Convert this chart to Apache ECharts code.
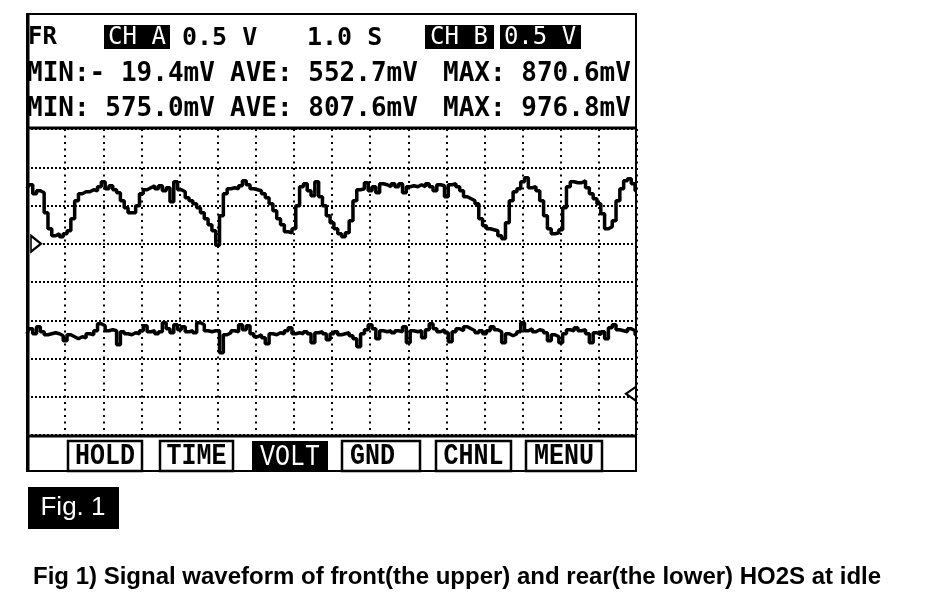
<!DOCTYPE html>
<html>
<head>
<meta charset="utf-8">
<script src="https://cdn.jsdelivr.net/npm/echarts@6/dist/echarts.min.js"></script>
<style>
html,body{margin:0;padding:0;background:#fff;}
#chart{width:928px;height:614px;}
</style>
</head>
<body>
<div id="chart"></div>
<script>
const sampleStep = 0.1;            // seconds between samples (1.0 s / div)
const timeDivs = 16;               // horizontal divisions
const voltPerDivMV = 500;          // 0.5 V / div on both channels

// Channel A (front HO2S, upper trace), mV
const chA = [
  719, 771, 654, 693, 667, 405, 196, 105, 131, 92,
  131, 170, 327, 562, 654, 680, 680, 706, 693, 745,
  810, 719, 758, 706, 667, 562, 470, 405, 405, 497,
  654, 706, 732, 758, 719, 758, 693, 732, 549, 810,
  706, 680, 601, 562, 523, 470, 405, 327, 248, 170,
  -19, 366, 654, 719, 732, 719, 758, 823, 771, 719,
  706, 693, 654, 601, 523, 431, 327, 248, 157, 144,
  196, 497, 745, 784, 693, 627, 810, 614, 497, 366,
  275, 196, 131, 92, 144, 301, 562, 706, 719, 797,
  693, 745, 667, 784, 771, 745, 784, 745, 784, 667,
  745, 758, 745, 771, 745, 784, 745, 693, 771, 758,
  614, 771, 784, 745, 693, 614, 588, 562, 523, 327,
  235, 196, 183, 170, 105, 65, 275, 562, 680, 719,
  810, 863, 732, 745, 693, 562, 366, 196, 131, 144,
  183, 470, 745, 810, 797, 797, 823, 732, 654, 588,
  523, 392, 196, 222, 301, 562, 719, 823, 850, 784,
  693
];

// Channel B (rear HO2S, lower trace), mV
const chB = [
  823, 889, 823, 915, 850, 810, 823, 836, 823, 797,
  732, 810, 784, 758, 784, 771, 823, 810, 863, 954,
  928, 863, 876, 863, 680, 850, 823, 810, 836, 823,
  863, 928, 850, 863, 823, 850, 967, 889, 836, 941,
  876, 915, 850, 863, 836, 967, 941, 863, 850, 863,
  863, 575, 810, 836, 863, 850, 941, 876, 928, 823,
  784, 810, 771, 693, 823, 810, 836, 823, 863, 902,
  823, 836, 823, 850, 823, 706, 836, 850, 823, 745,
  823, 850, 810, 823, 836, 797, 758, 654, 823, 876,
  941, 889, 758, 863, 850, 863, 836, 863, 850, 915,
  706, 863, 850, 863, 771, 876, 954, 889, 850, 876,
  836, 719, 850, 889, 863, 915, 889, 863, 836, 863,
  823, 863, 915, 876, 850, 706, 823, 797, 823, 850,
  967, 863, 889, 850, 876, 863, 836, 732, 810, 784,
  706, 823, 876, 863, 902, 863, 876, 823, 706, 836,
  810, 850, 758, 902, 941, 876, 863, 850, 889, 863,
  810
];

// header readouts
const headerRow1 = ['FR', 'CH A', '0.5 V', '1.0 S', 'CH B', '0.5 V'];
const statsA = ['MIN:- 19.4mV', 'AVE: 552.7mV', 'MAX: 870.6mV'];
const statsB = ['MIN: 575.0mV', 'AVE: 807.6mV', 'MAX: 976.8mV'];
const menuLabels = ['HOLD', 'TIME', 'VOLT', 'GND', 'CHNL', 'MENU'];
const figLabel = 'Fig. 1';
const caption = 'Fig 1) Signal waveform of front(the upper) and rear(the lower) HO2S at idle';

// ---- chart ----
const chart = echarts.init(document.getElementById('chart'), null, {renderer: 'canvas'});

const toPairs = arr => arr.map((v, i) => [+(i * sampleStep).toFixed(2), v]);

const MONO = 'DejaVu Sans Mono';
const SERIFMONO = 'Liberation Mono';

function txt(text, x, y, opts) {
  return Object.assign({
    type: 'text', x: x, y: y, z: 20,
    style: Object.assign({
      text: text, fill: '#000', font: 'bold 25px "' + MONO + '"',
      textAlign: 'left', textVerticalAlign: 'middle'
    }, opts && opts.style || {})
  }, opts && opts.el || {});
}
function box(x, y, w, h, fill, stroke, lw) {
  return {type: 'rect', z: 10, shape: {x: x, y: y, width: w, height: h},
    style: {fill: fill || 'none', stroke: stroke || null, lineWidth: lw || 0}};
}
function hline(x1, x2, y, lw) {
  return {type: 'line', z: 15, shape: {x1: x1, y1: y, x2: x2, y2: y}, style: {stroke: '#000', lineWidth: lw}};
}
function vline(x, y1, y2, lw) {
  return {type: 'line', z: 15, shape: {x1: x, y1: y1, x2: x, y2: y2}, style: {stroke: '#000', lineWidth: lw}};
}

const STAT = {style: {font: 'bold 26px "' + MONO + '"'}};
const graphics = [
  // frame of the scope screen
  box(27, 14, 609, 457, 'none', '#000', 2),
  vline(28, 14, 471, 3),
  hline(27, 636, 128, 3),
  hline(27, 636, 436, 3),
  // header row 1
  txt(headerRow1[0], 28, 38, {style: {font: 'bold 24px "' + MONO + '"'}}),
  box(104, 25, 66, 24, '#000'),
  txt(headerRow1[1], 137, 38, {style: {fill: '#fff', textAlign: 'center', font: '24px "' + MONO + '"'}}),
  txt(headerRow1[2], 182, 38),
  txt(headerRow1[3], 307, 38),
  box(425, 25, 69, 24, '#000'),
  txt(headerRow1[4], 459, 38, {style: {fill: '#fff', textAlign: 'center', font: '24px "' + MONO + '"'}}),
  box(500, 25, 81, 24, '#000'),
  txt(headerRow1[5], 540, 38, {style: {fill: '#fff', textAlign: 'center', font: '24px "' + MONO + '"'}}),
  // stats rows
  txt(statsA[0], 27, 74, STAT), txt(statsA[1], 230, 74, STAT), txt(statsA[2], 443, 74, STAT),
  txt(statsB[0], 27, 109, STAT), txt(statsB[1], 230, 109, STAT), txt(statsB[2], 443, 109, STAT),
  // Fig. 1 tag and caption
  box(28, 487, 91, 42, '#000'),
  txt(figLabel, 73, 508, {style: {fill: '#fff', textAlign: 'center', font: '26px "Liberation Sans"'}}),
  txt(caption, 33, 577, {style: {font: 'bold 24px "Liberation Sans"'}})
];

// menu buttons
const btnX = [68, 160, 252, 342, 436, 526];
const btnW = [74, 73, 76, 78, 75, 76];
menuLabels.forEach((lab, i) => {
  const active = lab === 'VOLT';
  graphics.push(box(btnX[i], 441, btnW[i], 30, active ? '#000' : '#fff', '#000', active ? 0 : 2.5));
  const cx = lab === 'GND' ? btnX[i] + 8 : btnX[i] + btnW[i] / 2;
  graphics.push({
    type: 'text', z: 20, x: cx, y: 457, scaleY: 1.15,
    style: {text: lab, fill: active ? '#fff' : '#000',
      font: (active ? '' : 'bold ') + '25px "' + SERIFMONO + '"',
      textAlign: lab === 'GND' ? 'left' : 'center', textVerticalAlign: 'middle'}
  });
});

const gridLine = (dash) => ({show: true, lineStyle: {color: '#000', width: 2, type: dash}});

const option = {
  backgroundColor: '#fff',
  animation: false,
  grid: {left: 27, top: 129, width: 610, height: 306, show: false},
  xAxis: {
    type: 'value', min: 0, max: timeDivs, interval: 1,
    axisLine: {show: false}, axisTick: {show: false}, axisLabel: {show: false},
    splitLine: gridLine([2, 4.5])
  },
  yAxis: [
    {type: 'value', min: -5 * voltPerDivMV, max: 3 * voltPerDivMV, interval: voltPerDivMV,
      axisLine: {show: false}, axisTick: {show: false}, axisLabel: {show: false},
      splitLine: gridLine([2, 2])},
    {type: 'value', min: -1 * voltPerDivMV, max: 7 * voltPerDivMV, interval: voltPerDivMV,
      axisLine: {show: false}, axisTick: {show: false}, axisLabel: {show: false},
      splitLine: {show: false}}
  ],
  series: [
    {name: 'CH A', type: 'line', yAxisIndex: 0, data: toPairs(chA), showSymbol: false, symbol: 'none',
      step: 'middle', lineStyle: {color: '#000', width: 3.5}, z: 5,
      markPoint: {symbol: 'path://M0,0 L10,8 L0,16 Z', symbolSize: [10, 16], symbolOffset: [9, 0],
        itemStyle: {color: '#fff', borderColor: '#000', borderWidth: 2}, label: {show: false},
        data: [{coord: [0, 0]}]}},
    {name: 'CH B', type: 'line', yAxisIndex: 1, data: toPairs(chB), showSymbol: false, symbol: 'none',
      step: 'middle', lineStyle: {color: '#000', width: 3.5}, z: 5,
      markPoint: {symbol: 'path://M10,0 L0,7 L10,14 Z', symbolSize: [10, 14], symbolOffset: [-6, -3],
        itemStyle: {color: '#fff', borderColor: '#000', borderWidth: 2}, label: {show: false},
        data: [{coord: [timeDivs, 0]}]}}
  ],
  graphic: graphics
};
chart.setOption(option);
</script>
</body>
</html>
